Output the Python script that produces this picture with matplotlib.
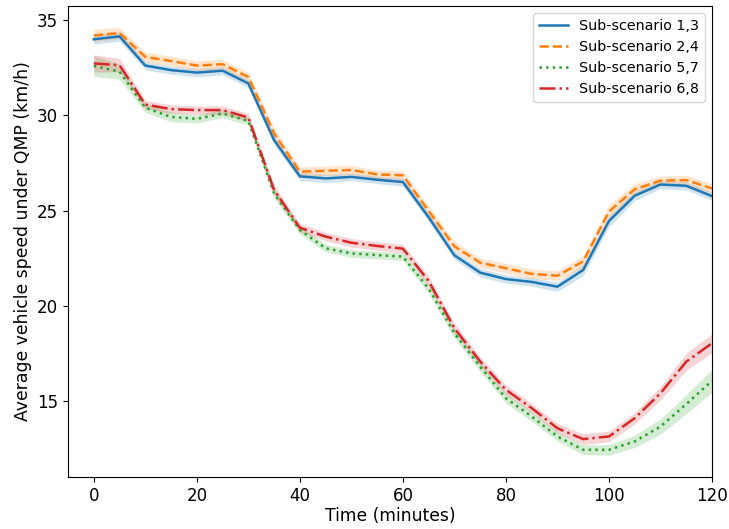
import numpy as np
import matplotlib
matplotlib.use("Agg")
import matplotlib.pyplot as plt

minutes = list(range(0, 125, 5))

labels = ["Sub-scenario 1,3", "Sub-scenario 2,4", "Sub-scenario 5,7", "Sub-scenario 6,8"]

speed_13 = [34.0, 34.15, 32.62, 32.38, 32.25, 32.35, 31.68, 28.7, 26.8, 26.69, 26.77, 26.62, 26.5,
            24.65, 22.65, 21.74, 21.4, 21.25, 21.0, 21.88, 24.45, 25.78, 26.37, 26.3, 25.76]
speed_24 = [34.2, 34.33, 33.07, 32.86, 32.62, 32.69, 32.02, 29.05, 27.04, 27.09, 27.13, 26.9, 26.85,
            24.98, 23.12, 22.26, 21.97, 21.67, 21.58, 22.33, 24.95, 26.12, 26.57, 26.6, 26.16]
speed_57 = [32.6, 32.3, 30.4, 29.92, 29.82, 30.1, 29.71, 25.9, 23.98, 23.02, 22.75, 22.66, 22.58,
            20.9, 18.55, 16.8, 15.14, 14.18, 13.13, 12.43, 12.43, 12.87, 13.65, 14.83, 16.05]
speed_68 = [32.73, 32.64, 30.57, 30.33, 30.28, 30.28, 29.89, 26.08, 24.1, 23.63, 23.31, 23.14, 23.0,
            21.3, 18.82, 17.07, 15.58, 14.62, 13.56, 12.99, 13.13, 14.09, 15.4, 17.06, 18.03]

# half width of the shaded band around each line
err_13 = [0.25, 0.25, 0.22, 0.22, 0.22, 0.22, 0.22, 0.25, 0.22, 0.22, 0.2, 0.2, 0.22,
          0.22, 0.22, 0.22, 0.22, 0.22, 0.25, 0.3, 0.3, 0.25, 0.22, 0.22, 0.22]
err_24 = [0.32, 0.3, 0.25, 0.25, 0.25, 0.25, 0.25, 0.28, 0.25, 0.25, 0.25, 0.22, 0.22,
          0.25, 0.25, 0.25, 0.25, 0.25, 0.25, 0.3, 0.35, 0.3, 0.25, 0.25, 0.25]
err_57 = [0.55, 0.4, 0.25, 0.25, 0.22, 0.22, 0.22, 0.25, 0.22, 0.2, 0.2, 0.2, 0.2,
          0.25, 0.25, 0.25, 0.25, 0.25, 0.25, 0.25, 0.28, 0.32, 0.4, 0.5, 0.6]
err_68 = [0.45, 0.35, 0.22, 0.22, 0.22, 0.22, 0.22, 0.25, 0.22, 0.22, 0.22, 0.22, 0.22,
          0.25, 0.25, 0.25, 0.25, 0.25, 0.25, 0.28, 0.28, 0.3, 0.35, 0.45, 0.5]

series = [speed_13, speed_24, speed_57, speed_68]
errors = [err_13, err_24, err_57, err_68]
colors = ["#1f77b4", "#ff7f0e", "#2ca02c", "#d62728"]
styles = ["-", "--", ":", "-."]

fig = plt.figure(figsize=(7.29, 5.29), dpi=100)
ax = fig.add_axes([0.0933, 0.0983, 0.8834, 0.8904])

x = np.array(minutes)
for y, e, c, ls, lab in zip(series, errors, colors, styles, labels):
    y = np.array(y)
    e = np.array(e)
    ax.fill_between(x, y - e, y + e, color=c, alpha=0.2, linewidth=0)
    ax.plot(x, y, color=c, linestyle=ls, linewidth=1.8, label=lab)

ax.set_xlim(-5, 120)
ax.set_ylim(11.0, 35.75)
ax.set_xticks([0, 20, 40, 60, 80, 100, 120])
ax.set_yticks([15, 20, 25, 30, 35])
ax.tick_params(labelsize=12)
ax.set_xlabel("Time (minutes)", fontsize=12.3, labelpad=2)
ax.set_ylabel("Average vehicle speed under QMP (km/h)", fontsize=12.4)
ax.legend(loc="upper right", fontsize=10.3)

fig.savefig("out.png", dpi=100)
